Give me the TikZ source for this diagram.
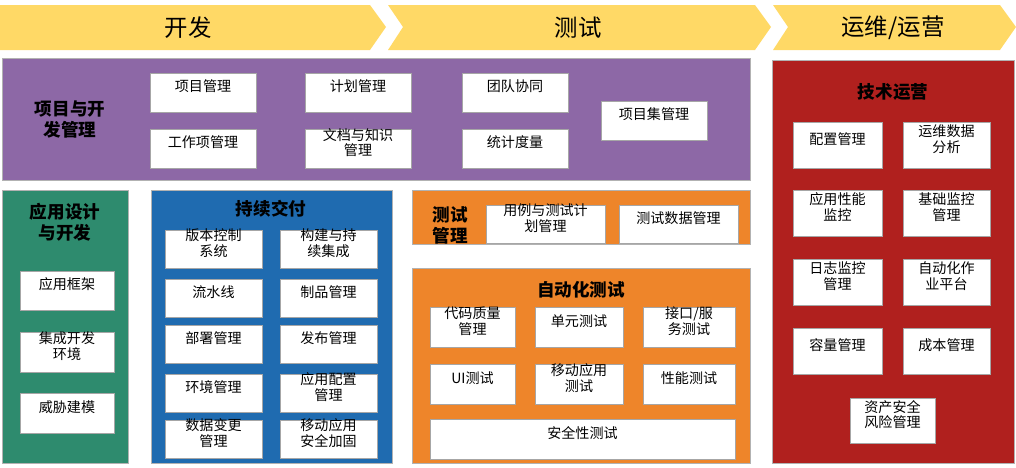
\documentclass[tikz,border=0pt]{standalone}
\usepackage{fontspec}
\setmainfont{Noto Sans CJK SC}
\usetikzlibrary{fit}
\definecolor{chev}{HTML}{FFD966}
\definecolor{purp}{HTML}{8D68A6}
\definecolor{grn}{HTML}{2E8B6E}
\definecolor{blu}{HTML}{1F6BB0}
\definecolor{org}{HTML}{EE852A}
\definecolor{rd}{HTML}{B0201E}
\tikzset{
  wb/.style={draw=gray!70, fill=white, inner sep=0pt, align=center, font=\fontsize{12}{13}\selectfont},
  grp/.style={draw=gray!60, inner sep=0pt},
  ttl/.style={font=\fontsize{15}{18}\selectfont\bfseries, align=center},
  hd/.style={font=\fontsize{20}{24}\selectfont}
}
\newcommand\wbox[6]{\node[wb, fit={(#2,#3)(#4,#5)}] (#1) {#6};}
\newcommand\gbox[6]{\node[grp, fill=#6, fit={(#2,#3)(#4,#5)}] (#1) {};}
\begin{document}
\begin{tikzpicture}[x=0.03cm,y=-0.03cm]
\useasboundingbox (0,0) rectangle (1016,467);
% chevrons
\fill[chev] (0,5) -- (370,5) -- (386,27) -- (370,50) -- (0,50) -- cycle;
\fill[chev] (388,5) -- (755,5) -- (771,27) -- (755,50) -- (388,50) -- (403,27) -- cycle;
\fill[chev] (773,5) -- (1000,5) -- (1016,27) -- (1000,50) -- (773,50) -- (788,27) -- cycle;
\node[hd] (h1) at (188,28) {开发};
\node[hd] (h2) at (578,28) {测试};
\node[hd] (h3) at (893,28) {运维/运营};
% purple
\gbox{P}{2}{58}{750}{180}{purp}
\node[ttl] (pt) at (70,119) {项目与开\\发管理};
\wbox{p1}{150}{73}{256}{112}{项目管理}
\wbox{p2}{150}{129}{256}{168}{工作项管理}
\wbox{p3}{305}{73}{411}{112}{计划管理}
\wbox{p4}{305}{129}{411}{168}{文档与知识\\管理}
\wbox{p5}{462}{73}{568}{112}{团队协同}
\wbox{p6}{462}{129}{568}{168}{统计度量}
\wbox{p7}{601}{101}{707}{140}{项目集管理}
% green
\gbox{G}{2}{190}{128}{463}{grn}
\node[ttl] (gt) at (65,222) {应用设计\\与开发};
\wbox{g1}{20}{271}{114}{310}{应用框架}
\wbox{g2}{20}{332}{114}{372}{集成开发\\环境}
\wbox{g3}{20}{393}{114}{433}{威胁建模}
% blue
\gbox{B}{151}{190}{392}{463}{blu}
\node[ttl] (bt) at (271,209) {持续交付};
\wbox{b1}{165}{230}{262}{268}{版本控制\\系统}
\wbox{b2}{280}{230}{377}{268}{构建与持\\续集成}
\wbox{b3}{165}{279}{262}{317}{流水线}
\wbox{b4}{280}{279}{377}{317}{制品管理}
\wbox{b5}{165}{325}{262}{363}{部署管理}
\wbox{b6}{280}{325}{377}{363}{发布管理}
\wbox{b7}{165}{374}{262}{412}{环境管理}
\wbox{b8}{280}{374}{377}{412}{应用配置\\管理}
\wbox{b9}{165}{420}{262}{458}{数据变更\\管理}
\wbox{b10}{280}{420}{377}{458}{移动应用\\安全加固}
% orange test mgmt
\gbox{O1}{412}{190}{750}{244}{org}
\node[ttl] (ot) at (450,225) {测试\\管理};
\wbox{o1}{486}{205}{605}{243}{用例与测试计\\划管理}
\wbox{o2}{619}{205}{738}{243}{测试数据管理}
% automation
\gbox{O2}{412}{268}{750}{463}{org}
\node[ttl] (at) at (581,290) {自动化测试};
\wbox{a1}{430}{307}{515}{347}{代码质量\\管理}
\wbox{a2}{535}{307}{623}{347}{单元测试}
\wbox{a3}{643}{307}{735}{347}{接口/服\\务测试}
\wbox{a4}{430}{364}{515}{404}{UI测试}
\wbox{a5}{535}{364}{623}{404}{移动应用\\测试}
\wbox{a6}{643}{364}{735}{404}{性能测试}
\wbox{a7}{430}{419}{735}{459}{安全性测试}
% red
\gbox{R}{772}{60}{1014}{463}{rd}
\node[ttl] (rt) at (893,92) {技术运营};
\wbox{r1}{793}{122}{882}{168}{配置管理}
\wbox{r2}{903}{122}{990}{168}{运维数据\\分析}
\wbox{r3}{793}{190}{882}{236}{应用性能\\监控}
\wbox{r4}{903}{190}{990}{236}{基础监控\\管理}
\wbox{r5}{793}{259}{882}{305}{日志监控\\管理}
\wbox{r6}{903}{259}{990}{305}{自动化作\\业平台}
\wbox{r7}{793}{328}{882}{374}{容量管理}
\wbox{r8}{903}{328}{990}{374}{成本管理}
\wbox{r9}{850}{398}{935}{443}{资产安全\\风险管理}
\end{tikzpicture}
\end{document}
